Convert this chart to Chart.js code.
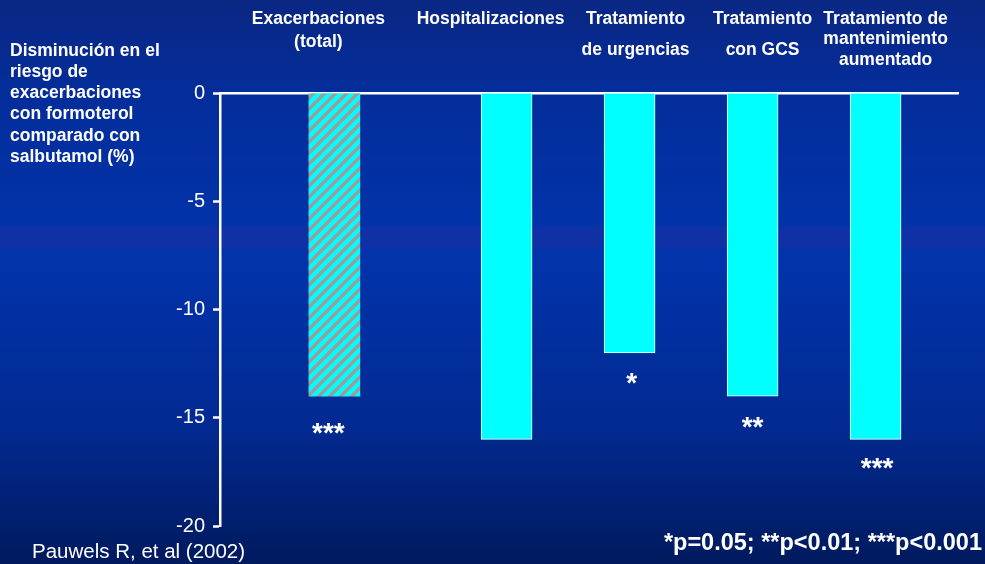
<!DOCTYPE html>
<html>

<head>
    <meta charset="utf-8">
    <title>Formoterol vs salbutamol</title>
    <style>
        body { margin: 0; background: #022a92; }
        canvas { display: block; }
    </style>
</head>

<body>
    <canvas id="grafico" width="985" height="564"></canvas>

    <script src="https://cdn.jsdelivr.net/npm/chart.js@4/dist/chart.umd.min.js"></script>
    <script type="text/javascript">
        // datos
        var categorias = [
            ['Exacerbaciones', '(total)'],
            ['Hospitalizaciones'],
            ['Tratamiento', 'de urgencias'],
            ['Tratamiento', 'con GCS'],
            ['Tratamiento de', 'mantenimiento', 'aumentado']
        ];
        var reduccion = [-14, -16, -12, -14, -16];
        var significacion = ['***', '', '*', '**', '***'];
        var ticksY = [0, -5, -10, -15, -20];
        var tituloY = ['Disminución en el', 'riesgo de', 'exacerbaciones', 'con formoterol', 'comparado con', 'salbutamol (%)'];
        var nota = '*p=0.05; **p<0.01; ***p<0.001';
        var cita = 'Pauwels R, et al (2002)';

        // colocacion (eje x lineal de 0 a 6)
        var posX = [0.93, 2.33, 3.33, 4.33, 5.33];
        var despEtiqueta = [-16, -16, 6, 10, 10];
        var saltoLinea = [23, 0, 31, 31, 20.5];
        var despAst = [[-6, 46], [0, 0], [2, 39.5], [0, 40], [1.5, 38]];

        var fuente = "'Liberation Sans', Arial, sans-serif";
        Chart.defaults.font.family = fuente;
        Chart.defaults.color = '#ffffff';

        // relleno rayado de la primera barra
        function rayado() {
            var c = document.createElement('canvas');
            c.width = 11; c.height = 11;
            var g = c.getContext('2d');
            g.fillStyle = '#00ffff';
            g.fillRect(0, 0, 11, 11);
            g.strokeStyle = '#9c9c9c';
            g.lineWidth = 3.4;
            g.beginPath();
            g.moveTo(-1, 12); g.lineTo(12, -1);
            g.moveTo(-1, 1); g.lineTo(1, -1);
            g.moveTo(10, 12); g.lineTo(12, 10);
            g.stroke();
            return g.createPattern(c, 'repeat');
        }

        var ctx = document.getElementById('grafico').getContext('2d');
        var relleno = reduccion.map(function (v, i) { return i == 0 ? rayado() : '#00ffff'; });

        var fondo = {
            id: 'fondo',
            beforeDraw: function (chart) {
                var c = chart.ctx;
                var gr = c.createLinearGradient(0, 0, 0, chart.height);
                gr.addColorStop(0, '#0a2783');
                gr.addColorStop(0.16, '#042d9a');
                gr.addColorStop(0.38, '#0232a8');
                gr.addColorStop(0.47, '#0233aa');
                gr.addColorStop(0.75, '#022a92');
                gr.addColorStop(1, '#001a5e');
                c.save();
                c.fillStyle = gr;
                c.fillRect(0, 0, chart.width, chart.height);
                // franja algo mas clara a media altura
                c.fillStyle = '#1030a6';
                c.fillRect(0, 227, chart.width, 21);
                c.restore();
            }
        };

        var textos = {
            id: 'textos',
            afterDraw: function (chart) {
                var c = chart.ctx;
                var x = chart.scales.x;
                c.save();
                c.fillStyle = '#ffffff';
                c.textBaseline = 'alphabetic';

                c.font = 'bold 17.5px ' + fuente;
                c.textAlign = 'left';
                tituloY.forEach(function (l, i) {
                    c.fillText(l, 10, 55.5 + i * 21.3);
                });

                c.textAlign = 'center';
                categorias.forEach(function (lineas, i) {
                    var cx = x.getPixelForValue(posX[i]) + despEtiqueta[i];
                    lineas.forEach(function (l, j) {
                        c.fillText(l, cx, 23.5 + j * saltoLinea[i]);
                    });
                });

                var barras = chart.getDatasetMeta(0).data;
                c.font = 'bold 28px ' + fuente;
                barras.forEach(function (b, i) {
                    if (!significacion[i]) return;
                    c.fillText(significacion[i], b.x + despAst[i][0], b.y + despAst[i][1]);
                });

                c.font = 'bold 23.5px ' + fuente;
                c.textAlign = 'right';
                c.fillText(nota, 982, 550);

                c.font = '20.5px ' + fuente;
                c.textAlign = 'left';
                c.fillText(cita, 32, 558);
                c.restore();
            }
        };

        var chart = new Chart(ctx, {
            type: 'bar',
            data: {
                datasets: [{
                    data: reduccion.map(function (v, i) { return { x: posX[i], y: v }; }),
                    backgroundColor: relleno,
                    borderColor: '#ffffff',
                    borderWidth: [0, 1, 1, 1, 1],
                    barThickness: 51
                }]
            },
            options: {
                responsive: false,
                animation: false,
                layout: { padding: { left: 0, right: 27, top: 0, bottom: 38 } },
                plugins: {
                    legend: { display: false },
                    tooltip: { enabled: false }
                },
                scales: {
                    x: {
                        type: 'linear',
                        position: 'top',
                        min: 0,
                        max: 6,
                        offset: false,
                        z: 1,
                        ticks: { display: false },
                        grid: { drawOnChartArea: false, drawTicks: false },
                        border: { color: '#ffffff', width: 2.5 },
                        afterFit: function (s) { s.height = 93; }
                    },
                    y: {
                        min: -20,
                        max: 0,
                        afterBuildTicks: function (s) {
                            s.ticks = ticksY.map(function (v) { return { value: v }; });
                        },
                        ticks: { color: '#ffffff', font: { size: 20 }, padding: 8 },
                        grid: { drawOnChartArea: false, drawTicks: true, tickLength: 7, tickColor: '#ffffff', tickWidth: 2.5 },
                        border: { color: '#ffffff', width: 2.5 },
                        afterFit: function (s) { s.width = 220; }
                    }
                }
            },
            plugins: [fondo, textos]
        });
    </script>
</body>

</html>
